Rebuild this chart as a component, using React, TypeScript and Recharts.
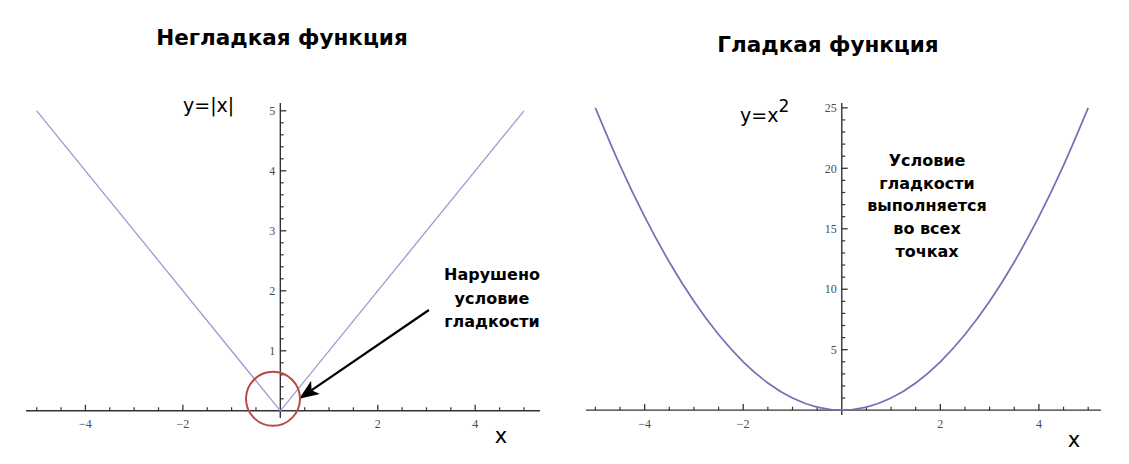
import { LineChart, Line, XAxis, YAxis, ReferenceLine, ReferenceDot } from "recharts";

// y = |x|
const absX = [-5, 0, 5];
const absY = [5, 0, 5];

// y = x^2
const sqX = [-5, -4.5, -4, -3.5, -3, -2.5, -2, -1.5, -1, -0.5, 0, 0.5, 1, 1.5, 2, 2.5, 3, 3.5, 4, 4.5, 5];
const sqY = [25, 20.25, 16, 12.25, 9, 6.25, 4, 2.25, 1, 0.25, 0, 0.25, 1, 2.25, 4, 6.25, 9, 12.25, 16, 20.25, 25];

// ticks
const xMajor = [-4, -2, 2, 4];
const xMinor = [-5, -4.5, -3.5, -3, -2.5, -1.5, -1, -0.5, 0.5, 1, 1.5, 2.5, 3, 3.5, 4.5, 5];
const absYMajor = [1, 2, 3, 4, 5];
const absYMinor = [0.2, 0.4, 0.6, 0.8, 1.2, 1.4, 1.6, 1.8, 2.2, 2.4, 2.6, 2.8, 3.2, 3.4, 3.6, 3.8, 4.2, 4.4, 4.6, 4.8];
const sqYMajor = [5, 10, 15, 20, 25];
const sqYMinor = [1, 2, 3, 4, 6, 7, 8, 9, 11, 12, 13, 14, 16, 17, 18, 19, 21, 22, 23, 24];

const absData = absX.map((x, i) => ({ x, y: absY[i] }));
const sqData = sqX.map((x, i) => ({ x, y: sqY[i] }));

const axisColor = "#333";
const tickFont = { fontSize: 12, fill: "#4a4a5a", fontFamily: "'Liberation Serif', serif" };
const fmt = (t: number) => (t < 0 ? "\u2212" + Math.abs(t) : String(t));

// draws Mathematica-style axes through the origin
function axes(id: string, yMajor: number[], yMinor: number[], xLen: number[], yLen: number[]) {
  return [
    <ReferenceLine key={id + "ax"} y={0} stroke={axisColor} strokeWidth={1.4} />,
    <ReferenceLine key={id + "ay"} x={0} stroke={axisColor} strokeWidth={1.4} />,
    ...xMajor.map((t) => (
      <ReferenceLine
        key={id + "xM" + t}
        segment={[{ x: t, y: 0 }, { x: t, y: xLen[0] }]}
        stroke={axisColor}
        strokeWidth={1.3}
        label={{ value: fmt(t), position: "bottom", offset: 9, ...tickFont }}
      />
    )),
    ...xMinor.map((t) => (
      <ReferenceLine key={id + "xm" + t} segment={[{ x: t, y: 0 }, { x: t, y: xLen[1] }]} stroke={axisColor} strokeWidth={1.2} />
    )),
    ...yMajor.map((t) => (
      <ReferenceLine
        key={id + "yM" + t}
        segment={[{ x: 0, y: t }, { x: yLen[0], y: t }]}
        stroke={axisColor}
        strokeWidth={1.3}
        label={{ value: fmt(t), position: "left", offset: 5, ...tickFont }}
      />
    )),
    ...yMinor.map((t) => (
      <ReferenceLine key={id + "ym" + t} segment={[{ x: 0, y: t }, { x: yLen[1], y: t }]} stroke={axisColor} strokeWidth={1.2} />
    )),
  ];
}

const comic = "'DejaVu Sans', sans-serif";
const plain = "'DejaVu Sans', sans-serif";

export default function App() {
  return (
    <div style={{ position: "absolute", left: 0, top: 0, width: 1129, height: 464, background: "#fff" }}>
      <div style={{ position: "absolute", left: 0, top: 0 }}>
        <LineChart width={560} height={464} data={absData} margin={{ top: 103, right: 20, bottom: 46, left: 26 }}>
          <XAxis type="number" dataKey="x" domain={[-5.22, 5.33]} allowDataOverflow hide />
          <YAxis type="number" domain={[-0.12, 5.13]} allowDataOverflow hide />
          {axes("a", absYMajor, absYMinor, [0.1, 0.058], [0.123, 0.07])}
          <Line type="linear" dataKey="y" stroke="#9a9bd0" strokeWidth={1.3} dot={false} isAnimationActive={false} />
          <ReferenceDot x={-0.15} y={0.2} r={27} fill="none" stroke="#b84a42" strokeWidth={2} ifOverflow="visible" />
          <ReferenceLine
            segment={[{ x: 3.05, y: 1.68 }, { x: 0.42, y: 0.22 }]}
            stroke="#000"
            strokeWidth={2.2}
            markerEnd="url(#arrowHead)"
          />
        </LineChart>
      </div>
      <div style={{ position: "absolute", left: 560, top: 0 }}>
        <LineChart width={569} height={464} data={sqData} margin={{ top: 103, right: 28, bottom: 49, left: 26 }}>
          <XAxis type="number" dataKey="x" domain={[-5.19, 5.26]} allowDataOverflow hide />
          <YAxis type="number" domain={[-0.4, 25.4]} allowDataOverflow hide />
          {axes("s", sqYMajor, sqYMinor, [0.5, 0.29], [0.12, 0.07])}
          <Line type="monotone" dataKey="y" stroke="#7070b6" strokeWidth={1.7} dot={false} isAnimationActive={false} />
        </LineChart>
      </div>
      <svg width={1129} height={464} style={{ position: "absolute", left: 0, top: 0, pointerEvents: "none" }}>
        <defs>
          <marker id="arrowHead" markerUnits="userSpaceOnUse" markerWidth={22} markerHeight={18} refX={18} refY={8} orient="auto">
            <path d="M0,0 L20,8 L0,16 L5,8 Z" fill="#000" />
          </marker>
        </defs>
        <g fontFamily={comic} fontWeight="bold" fill="#000" textAnchor="middle">
          <text x={282} y={45} fontSize={21.5}>Негладкая функция</text>
          <text x={828} y={52} fontSize={21.5}>Гладкая функция</text>
          <g fontSize={16}>
            <text x={492} y={280}>Нарушено</text>
            <text x={492} y={304}>условие</text>
            <text x={492} y={327}>гладкости</text>
            <text x={927} y={166}>Условие</text>
            <text x={927} y={189}>гладкости</text>
            <text x={927} y={211}>выполняется</text>
            <text x={927} y={234}>во всех</text>
            <text x={927} y={257}>точках</text>
          </g>
        </g>
        <g fontFamily={plain} fill="#000">
          <text x={183} y={112} fontSize={19}>y=|x|</text>
          <text x={740} y={122} fontSize={19}>
            y=x<tspan dy={-10} fontSize={17}>2</tspan>
          </text>
          <text x={501} y={443} fontSize={21} textAnchor="middle">x</text>
          <text x={1074} y={447} fontSize={21} textAnchor="middle">x</text>
        </g>
      </svg>
    </div>
  );
}
